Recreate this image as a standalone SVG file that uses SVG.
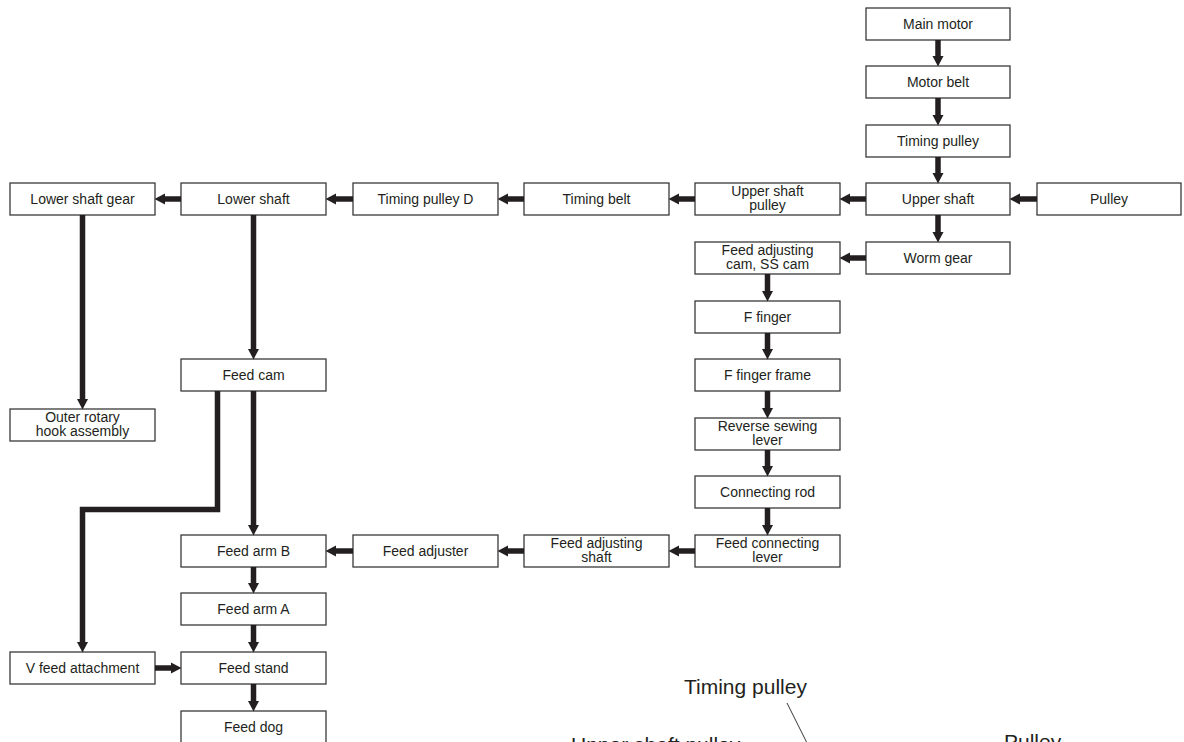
<svg xmlns="http://www.w3.org/2000/svg" width="1184" height="742" viewBox="0 0 1184 742">
<style>
.b rect{fill:#fff;stroke:#3a3a3a;stroke-width:1.3}
.b text{font-family:"Liberation Sans",Arial,sans-serif;font-size:14px;fill:#231f20;text-anchor:middle}
.c path{fill:none;stroke:#231f20;stroke-width:5.5}
.lbl{font-family:"Liberation Sans",Arial,sans-serif;font-size:21px;fill:#231f20}
</style>
<defs>
<marker id="ah" markerUnits="userSpaceOnUse" markerWidth="11" markerHeight="12" refX="2" refY="6" orient="auto">
<path d="M0,0.5 L10.5,6 L0,11.5 z" fill="#231f20"/>
</marker>
</defs>
<rect width="1184" height="742" fill="#fff"/>
<g class="b">
<g id="main-motor"><rect x="866" y="8" width="144" height="32"/><text x="938" y="29">Main motor</text></g>
<g id="motor-belt"><rect x="866" y="66" width="144" height="32"/><text x="938" y="87">Motor belt</text></g>
<g id="timing-pulley"><rect x="866" y="125" width="144" height="32"/><text x="938" y="146">Timing pulley</text></g>
<g id="upper-shaft"><rect x="866" y="183" width="144" height="32"/><text x="938" y="204">Upper shaft</text></g>
<g id="pulley"><rect x="1037" y="183" width="144" height="32"/><text x="1109" y="204">Pulley</text></g>
<g id="worm-gear"><rect x="866" y="242" width="144" height="32"/><text x="938" y="263">Worm gear</text></g>
<g id="upper-shaft-pulley"><rect x="695" y="183" width="145" height="32"/><text x="767.5" y="196">Upper shaft</text><text x="767.5" y="210">pulley</text></g>
<g id="feed-adjusting-cam"><rect x="695" y="242" width="145" height="32"/><text x="767.5" y="255">Feed adjusting</text><text x="767.5" y="269">cam, SS cam</text></g>
<g id="f-finger"><rect x="695" y="301" width="145" height="32"/><text x="767.5" y="322">F finger</text></g>
<g id="f-finger-frame"><rect x="695" y="359" width="145" height="32"/><text x="767.5" y="380">F finger frame</text></g>
<g id="reverse-sewing-lever"><rect x="695" y="418" width="145" height="32"/><text x="767.5" y="431">Reverse sewing</text><text x="767.5" y="445">lever</text></g>
<g id="connecting-rod"><rect x="695" y="476" width="145" height="32"/><text x="767.5" y="497">Connecting rod</text></g>
<g id="feed-connecting-lever"><rect x="695" y="535" width="145" height="32"/><text x="767.5" y="548">Feed connecting</text><text x="767.5" y="562">lever</text></g>
<g id="timing-belt"><rect x="524" y="183" width="145" height="32"/><text x="596.5" y="204">Timing belt</text></g>
<g id="feed-adjusting-shaft"><rect x="524" y="535" width="145" height="32"/><text x="596.5" y="548">Feed adjusting</text><text x="596.5" y="562">shaft</text></g>
<g id="timing-pulley-d"><rect x="353" y="183" width="145" height="32"/><text x="425.5" y="204">Timing pulley D</text></g>
<g id="feed-adjuster"><rect x="353" y="535" width="145" height="32"/><text x="425.5" y="556">Feed adjuster</text></g>
<g id="lower-shaft"><rect x="181" y="183" width="145" height="32"/><text x="253.5" y="204">Lower shaft</text></g>
<g id="feed-cam"><rect x="181" y="359" width="145" height="32"/><text x="253.5" y="380">Feed cam</text></g>
<g id="feed-arm-b"><rect x="181" y="535" width="145" height="32"/><text x="253.5" y="556">Feed arm B</text></g>
<g id="feed-arm-a"><rect x="181" y="593" width="145" height="32"/><text x="253.5" y="614">Feed arm A</text></g>
<g id="feed-stand"><rect x="181" y="652" width="145" height="32"/><text x="253.5" y="673">Feed stand</text></g>
<g id="feed-dog"><rect x="181" y="711" width="145" height="32"/><text x="253.5" y="732">Feed dog</text></g>
<g id="lower-shaft-gear"><rect x="10" y="183" width="145" height="32"/><text x="82.5" y="204">Lower shaft gear</text></g>
<g id="outer-rotary-hook"><rect x="10" y="409" width="145" height="32"/><text x="82.5" y="422">Outer rotary</text><text x="82.5" y="436">hook assembly</text></g>
<g id="v-feed-attachment"><rect x="10" y="652" width="145" height="32"/><text x="82.5" y="673">V feed attachment</text></g>
</g>
<g class="c" id="connectors">
<path d="M938,40 V58" marker-end="url(#ah)"/>
<path d="M938,98 V117" marker-end="url(#ah)"/>
<path d="M938,157 V175" marker-end="url(#ah)"/>
<path d="M938,215 V234" marker-end="url(#ah)"/>
<path d="M1037,199 H1018" marker-end="url(#ah)"/>
<path d="M866,199 H848" marker-end="url(#ah)"/>
<path d="M695,199 H677" marker-end="url(#ah)"/>
<path d="M524,199 H506" marker-end="url(#ah)"/>
<path d="M353,199 H334" marker-end="url(#ah)"/>
<path d="M181,199 H163" marker-end="url(#ah)"/>
<path d="M866,258 H848" marker-end="url(#ah)"/>
<path d="M767.5,274 V293" marker-end="url(#ah)"/>
<path d="M767.5,333 V351" marker-end="url(#ah)"/>
<path d="M767.5,391 V410" marker-end="url(#ah)"/>
<path d="M767.5,450 V468" marker-end="url(#ah)"/>
<path d="M767.5,508 V527" marker-end="url(#ah)"/>
<path d="M695,551 H677" marker-end="url(#ah)"/>
<path d="M524,551 H506" marker-end="url(#ah)"/>
<path d="M353,551 H334" marker-end="url(#ah)"/>
<path d="M253.5,215 V351" marker-end="url(#ah)"/>
<path d="M253.5,391 V527" marker-end="url(#ah)"/>
<path d="M253.5,567 V585" marker-end="url(#ah)"/>
<path d="M253.5,625 V644" marker-end="url(#ah)"/>
<path d="M253.5,684 V703" marker-end="url(#ah)"/>
<path d="M82.5,215 V401" marker-end="url(#ah)"/>
<path d="M217.5,391 V509.5 H82.5 V644" marker-end="url(#ah)"/>
<path d="M155,668 H173" marker-end="url(#ah)"/>
</g>
<g id="picture-labels">
<text class="lbl" x="684" y="694">Timing pulley</text>
<line x1="787" y1="703" x2="808" y2="745" stroke="#231f20" stroke-width="0.9"/>
<text class="lbl" x="571" y="752">Upper shaft pulley</text>
<text class="lbl" x="1004" y="749">Pulley</text>
</g>
</svg>
